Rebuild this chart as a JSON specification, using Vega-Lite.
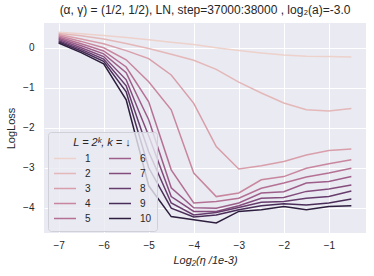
{
  "$schema": "https://vega.github.io/schema/vega-lite/v6.json",
  "width": 322,
  "height": 210,
  "autosize": {"type": "none"},
  "padding": {"left": 44, "top": 23, "right": 8, "bottom": 43},
  "background": "white",
  "config": {
    "font": "Liberation Sans",
    "view": {"fill": "#eaeaf2", "stroke": null},
    "axis": {"domain": false, "ticks": false, "grid": true, "gridColor": "white", "gridWidth": 1, "labelColor": "#262626", "titleColor": "#262626", "labelFontSize": 10, "titleFontSize": 11, "titleFontWeight": "normal", "labelFont": "Liberation Sans", "titleFont": "Liberation Sans"}
  },
  "title": {"text": "(α, γ) = (1/2, 1/2), LN, step=37000:38000 , log₂(a)=-3.0", "fontSize": 12, "fontWeight": "normal", "color": "#262626", "anchor": "middle", "offset": 6, "font": "Liberation Sans"},
  "data": {"values": [
    {"k":"1","x":-7,"y":0.39},{"k":"1","x":-6.5,"y":0.35},{"k":"1","x":-6,"y":0.31},{"k":"1","x":-5.5,"y":0.26},{"k":"1","x":-5,"y":0.2},{"k":"1","x":-4.5,"y":0.14},{"k":"1","x":-4,"y":0.08},{"k":"1","x":-3.5,"y":0.0},{"k":"1","x":-3,"y":-0.07},{"k":"1","x":-2.5,"y":-0.13},{"k":"1","x":-2,"y":-0.18},{"k":"1","x":-1.5,"y":-0.21},{"k":"1","x":-1,"y":-0.22},{"k":"1","x":-0.5,"y":-0.23},
    {"k":"2","x":-7,"y":0.36},{"k":"2","x":-6.5,"y":0.3},{"k":"2","x":-6,"y":0.22},{"k":"2","x":-5.5,"y":0.11},{"k":"2","x":-5,"y":-0.02},{"k":"2","x":-4.5,"y":-0.16},{"k":"2","x":-4,"y":-0.31},{"k":"2","x":-3.5,"y":-0.54},{"k":"2","x":-3,"y":-0.86},{"k":"2","x":-2.5,"y":-1.13},{"k":"2","x":-2,"y":-1.38},{"k":"2","x":-1.5,"y":-1.55},{"k":"2","x":-1,"y":-1.58},{"k":"2","x":-0.5,"y":-1.52},
    {"k":"3","x":-7,"y":0.33},{"k":"3","x":-6.5,"y":0.22},{"k":"3","x":-6,"y":0.1},{"k":"3","x":-5.5,"y":-0.07},{"k":"3","x":-5,"y":-0.27},{"k":"3","x":-4.5,"y":-0.68},{"k":"3","x":-4,"y":-1.39},{"k":"3","x":-3.5,"y":-2.47},{"k":"3","x":-3,"y":-3.03},{"k":"3","x":-2.5,"y":-2.95},{"k":"3","x":-2,"y":-2.84},{"k":"3","x":-1.5,"y":-2.68},{"k":"3","x":-1,"y":-2.57},{"k":"3","x":-0.5,"y":-2.53},
    {"k":"4","x":-7,"y":0.3},{"k":"4","x":-6.5,"y":0.16},{"k":"4","x":-6,"y":0.0},{"k":"4","x":-5.5,"y":-0.3},{"k":"4","x":-5,"y":-0.85},{"k":"4","x":-4.5,"y":-1.55},{"k":"4","x":-4,"y":-3.13},{"k":"4","x":-3.5,"y":-3.72},{"k":"4","x":-3,"y":-3.63},{"k":"4","x":-2.5,"y":-3.3},{"k":"4","x":-2,"y":-3.22},{"k":"4","x":-1.5,"y":-3.01},{"k":"4","x":-1,"y":-2.9},{"k":"4","x":-0.5,"y":-2.8},
    {"k":"5","x":-7,"y":0.27},{"k":"5","x":-6.5,"y":0.1},{"k":"5","x":-6,"y":-0.08},{"k":"5","x":-5.5,"y":-0.48},{"k":"5","x":-5,"y":-1.35},{"k":"5","x":-4.5,"y":-3.05},{"k":"5","x":-4,"y":-3.88},{"k":"5","x":-3.5,"y":-3.84},{"k":"5","x":-3,"y":-3.76},{"k":"5","x":-2.5,"y":-3.51},{"k":"5","x":-2,"y":-3.38},{"k":"5","x":-1.5,"y":-3.23},{"k":"5","x":-1,"y":-3.13},{"k":"5","x":-0.5,"y":-3.01},
    {"k":"6","x":-7,"y":0.24},{"k":"6","x":-6.5,"y":0.05},{"k":"6","x":-6,"y":-0.15},{"k":"6","x":-5.5,"y":-0.62},{"k":"6","x":-5,"y":-1.8},{"k":"6","x":-4.5,"y":-3.5},{"k":"6","x":-4,"y":-4.0},{"k":"6","x":-3.5,"y":-4.01},{"k":"6","x":-3,"y":-3.88},{"k":"6","x":-2.5,"y":-3.63},{"k":"6","x":-2,"y":-3.6},{"k":"6","x":-1.5,"y":-3.38},{"k":"6","x":-1,"y":-3.34},{"k":"6","x":-0.5,"y":-3.22},
    {"k":"7","x":-7,"y":0.21},{"k":"7","x":-6.5,"y":0.0},{"k":"7","x":-6,"y":-0.22},{"k":"7","x":-5.5,"y":-0.8},{"k":"7","x":-5,"y":-2.2},{"k":"7","x":-4.5,"y":-3.72},{"k":"7","x":-4,"y":-4.09},{"k":"7","x":-3.5,"y":-4.09},{"k":"7","x":-3,"y":-3.95},{"k":"7","x":-2.5,"y":-3.76},{"k":"7","x":-2,"y":-3.74},{"k":"7","x":-1.5,"y":-3.59},{"k":"7","x":-1,"y":-3.53},{"k":"7","x":-0.5,"y":-3.43},
    {"k":"8","x":-7,"y":0.18},{"k":"8","x":-6.5,"y":-0.04},{"k":"8","x":-6,"y":-0.28},{"k":"8","x":-5.5,"y":-0.95},{"k":"8","x":-5,"y":-2.6},{"k":"8","x":-4.5,"y":-3.88},{"k":"8","x":-4,"y":-4.18},{"k":"8","x":-3.5,"y":-4.12},{"k":"8","x":-3,"y":-3.99},{"k":"8","x":-2.5,"y":-3.86},{"k":"8","x":-2,"y":-3.84},{"k":"8","x":-1.5,"y":-3.76},{"k":"8","x":-1,"y":-3.72},{"k":"8","x":-0.5,"y":-3.58},
    {"k":"9","x":-7,"y":0.15},{"k":"9","x":-6.5,"y":-0.08},{"k":"9","x":-6,"y":-0.34},{"k":"9","x":-5.5,"y":-1.1},{"k":"9","x":-5,"y":-3.0},{"k":"9","x":-4.5,"y":-4.01},{"k":"9","x":-4,"y":-4.23},{"k":"9","x":-3.5,"y":-4.18},{"k":"9","x":-3,"y":-4.05},{"k":"9","x":-2.5,"y":-3.95},{"k":"9","x":-2,"y":-3.9},{"k":"9","x":-1.5,"y":-3.93},{"k":"9","x":-1,"y":-3.88},{"k":"9","x":-0.5,"y":-3.78},
    {"k":"10","x":-7,"y":0.12},{"k":"10","x":-6.5,"y":-0.12},{"k":"10","x":-6,"y":-0.4},{"k":"10","x":-5.5,"y":-1.3},{"k":"10","x":-5,"y":-3.45},{"k":"10","x":-4.5,"y":-4.22},{"k":"10","x":-4,"y":-4.3},{"k":"10","x":-3.5,"y":-4.38},{"k":"10","x":-3,"y":-4.09},{"k":"10","x":-2.5,"y":-4.05},{"k":"10","x":-2,"y":-3.97},{"k":"10","x":-1.5,"y":-4.05},{"k":"10","x":-1,"y":-3.97},{"k":"10","x":-0.5,"y":-3.95}
  ]},
  "mark": {"type": "line", "strokeWidth": 1.5},
  "encoding": {
    "x": {"field": "x", "type": "quantitative", "scale": {"domain": [-7.325, -0.175], "nice": false, "zero": false}, "axis": {"values": [-7,-6,-5,-4,-3,-2,-1], "format": "d", "labelPadding": 7, "title": "Log₂(η /1e-3)", "titleFontStyle": "italic", "titlePadding": 4}},
    "y": {"field": "y", "type": "quantitative", "scale": {"domain": [-4.63, 0.62], "nice": false, "zero": false}, "axis": {"values": [-4,-3,-2,-1,0], "format": "d", "labelPadding": 10, "title": "LogLoss", "titlePadding": 6}},
    "color": {"field": "k", "type": "nominal",
      "scale": {"domain": ["1","2","3","4","5","6","7","8","9","10"], "range": ["#edd1cb","#e4b8b8","#d89faa","#c8879e","#b57194","#9d5e8a","#834c7d","#663c6d","#492d58","#2d1e3e"]},
      "legend": {"title": "L = 2ᵏ, k = ↓", "orient": "none", "legendX": 4, "legendY": 109, "columns": 2, "columnPadding": 17, "rowPadding": 0, "clipHeight": 15, "symbolType": "stroke", "symbolSize": 484, "symbolStrokeWidth": 1.5, "labelOffset": 8, "labelFontSize": 10, "titleFontSize": 11, "titleFontWeight": "normal", "titleFontStyle": "italic", "titleAnchor": "middle", "titlePadding": 3, "titleColor": "#262626", "labelColor": "#262626", "fillColor": "rgba(234,234,242,0.8)", "strokeColor": "#d0d0d8", "cornerRadius": 3, "padding": 5}},
    "order": {"field": "k", "type": "quantitative"}
  }
}
